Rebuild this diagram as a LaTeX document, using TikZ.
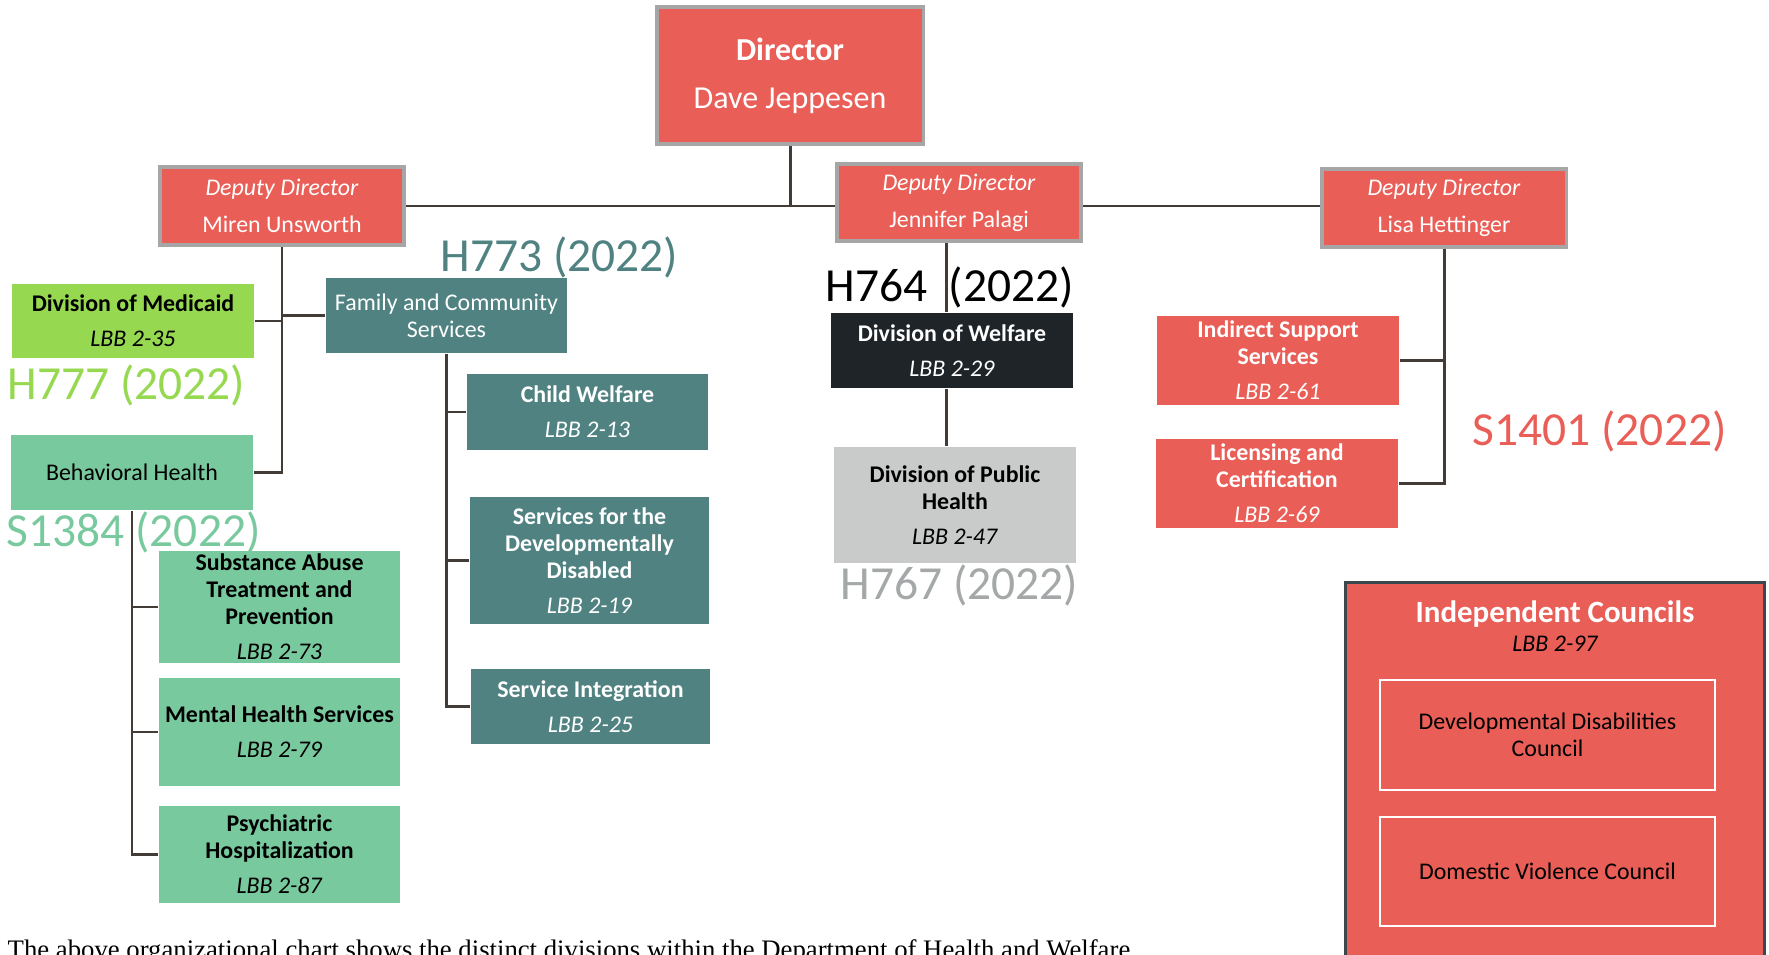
\documentclass[tikz,border=0pt]{standalone}
\usepackage{fontspec}
\setmainfont{Carlito}
\newfontfamily\capfont{Liberation Serif}
\usepackage{xcolor}
\usetikzlibrary{positioning, backgrounds}

\definecolor{hwcoral}{HTML}{E95E56}
\definecolor{hwrim}{HTML}{A6A6A6}
\definecolor{hwlime}{HTML}{96D951}
\definecolor{hwmint}{HTML}{79C99E}
\definecolor{hwteal}{HTML}{508281}
\definecolor{hwdark}{HTML}{1E2428}
\definecolor{hwgrey}{HTML}{C9CACA}
\definecolor{hwgreytext}{HTML}{A5A8A8}
\definecolor{hwline}{HTML}{433C36}
\definecolor{hwslate}{HTML}{3D474E}

\begin{document}
\begin{tikzpicture}[x=0.01cm, y=-0.01cm,
        conn/.style={draw=hwline, line width=0.85pt},
        unit/.style={
            rectangle, inner sep=0pt, align=center,
            font=\fontsize{6.8}{7.6}\selectfont,
            minimum width=2.42cm
        },
        head/.style={unit, fill=hwcoral, draw=hwrim, line width=0.9pt, text=white},
        redunit/.style={unit, fill=hwcoral, text=white},
        tealunit/.style={unit, fill=hwteal, text=white},
        mintunit/.style={unit, fill=hwmint},
        bill/.style={inner sep=0pt, anchor=base west, font=\fontsize{13.5}{16}\selectfont},
        council/.style={unit, draw=white, line width=0.7pt, minimum width=3.35cm}
    ]
        \useasboundingbox (0,0) rectangle (1769,955);

        % top of the chart
        \node[head, minimum width=2.66cm, minimum height=1.37cm,
              font=\fontsize{9.1}{13.6}\selectfont] (dir) at (790,75.5)
              {\textbf{Director}\\Dave Jeppesen};
        \node[head, minimum width=2.44cm, minimum height=0.78cm] (depU) at (282,206)
              {\textit{Deputy Director}\\[2.9pt]Miren Unsworth};
        \node[head, minimum width=2.44cm, minimum height=0.77cm] (depP) at (959,202.5)
              {\textit{Deputy Director}\\[2.9pt]Jennifer Palagi};
        \node[head, minimum width=2.44cm, minimum height=0.78cm] (depL) at (1444,208)
              {\textit{Deputy Director}\\[2.9pt]Lisa Hettinger};

        % Miren Unsworth
        \node[unit, fill=hwlime, minimum height=0.74cm] (med) at (133,321)
              {\textbf{Division of Medicaid}\\[2.4pt]\textit{LBB 2-35}};
        \node[tealunit, minimum width=2.41cm, minimum height=0.75cm] (fcs) at (446.5,315.5)
              {Family and Community\\Services};
        \node[mintunit, minimum height=0.75cm] (bh) at (132,472.5) {Behavioral Health};

        \node[mintunit, minimum width=2.41cm, minimum height=1.12cm] (sub) at (279.5,607)
              {\textbf{Substance Abuse}\\\textbf{Treatment and}\\\textbf{Prevention}\\[2.4pt]\textit{LBB 2-73}};
        \node[mintunit, minimum width=2.41cm, minimum height=1.08cm] (mhs) at (279.5,732)
              {\textbf{Mental Health Services}\\[2.4pt]\textit{LBB 2-79}};
        \node[mintunit, minimum width=2.41cm, minimum height=0.97cm] (psy) at (279.5,854.5)
              {\textbf{Psychiatric}\\\textbf{Hospitalization}\\[2.4pt]\textit{LBB 2-87}};

        \node[tealunit, minimum width=2.41cm, minimum height=0.76cm] (cw) at (587.5,412)
              {\textbf{Child Welfare}\\[2.4pt]\textit{LBB 2-13}};
        \node[tealunit, minimum width=2.39cm, minimum height=1.27cm] (sdd) at (589.5,560.5)
              {\textbf{Services for the}\\\textbf{Developmentally}\\\textbf{Disabled}\\[2.4pt]\textit{LBB 2-19}};
        \node[tealunit, minimum width=2.39cm, minimum height=0.75cm] (si) at (590.5,706.5)
              {\textbf{Service Integration}\\[2.4pt]\textit{LBB 2-25}};

        % Jennifer Palagi
        \node[unit, fill=hwdark, text=white, minimum height=0.75cm] (welf) at (952,350.5)
              {\textbf{Division of Welfare}\\[2.4pt]\textit{LBB 2-29}};
        \node[unit, fill=hwgrey, minimum height=1.16cm] (ph) at (955,505)
              {\textbf{Division of Public}\\\textbf{Health}\\[2.4pt]\textit{LBB 2-47}};
        \coordinate (pcol) at ([xshift=-0.06cm]welf.north);

        % Lisa Hettinger
        \node[redunit, minimum height=0.89cm] (iss) at (1278,360.5)
              {\textbf{Indirect Support}\\\textbf{Services}\\[2.4pt]\textit{LBB 2-61}};
        \node[redunit, minimum height=0.89cm] (lic) at (1277,483.5)
              {\textbf{Licensing and}\\\textbf{Certification}\\[2.4pt]\textit{LBB 2-69}};

        % councils
        \node[unit, fill=hwcoral, draw=hwslate, line width=0.9pt,
              minimum width=4.18cm, minimum height=4.1cm] (indep) at (1555,788) {};
        \node[inner sep=0pt, anchor=base, text=white,
              font=\fontsize{8.8}{10}\selectfont\bfseries] (ictitle) at (1555,623) {Independent Councils};
        \node[inner sep=0pt, anchor=base,
              font=\fontsize{6.8}{8}\selectfont\itshape] (iclbb) at (1555,652) {LBB 2-97};
        \node[council, minimum height=1.10cm] (ddc) at (1547.5,735)
              {Developmental Disabilities\\Council};
        \node[council, minimum height=1.09cm] (dvc) at (1547.5,871.5)
              {Domestic Violence Council};

        % bills
        \node[bill, text=hwteal] (h773) at (440,272) {H773 (2022)};
        \node[bill, text=hwlime] (h777) at (7,400) {H777 (2022)};
        \node[bill, text=hwmint] (s1384) at (6,547) {S1384 (2022)};
        \node[bill, text=black] (h764) at (825,302) {H764 \ (2022)};
        \node[bill, text=hwgreytext] (h767) at (840,600) {H767 (2022)};
        \node[bill, text=hwcoral] (s1401) at (1472,446) {S1401 (2022)};

        \node[inner sep=0pt, anchor=base west,
              font=\capfont\fontsize{7.6}{8}\selectfont] (caption) at (7,958)
              {The above organizational chart shows the distinct divisions within the Department of Health and Welfare};

        \begin{scope}[on background layer]
            \draw[conn] (dir.south) -- (dir.south |- depU.east);
            \draw[conn] (depU.east) -- (depL.west |- depU.east);

            \draw[conn] (depU.south) |- (bh.east);
            \draw[conn] (med.east) -- (med.east -| depU.south);
            \draw[conn] (fcs.west) -- (fcs.west -| depU.south);

            \draw[conn] (bh.south) |- (psy.west);
            \draw[conn] (sub.west) -- (sub.west -| bh.south);
            \draw[conn] (mhs.west) -- (mhs.west -| bh.south);

            \draw[conn] (fcs.south) |- (si.west);
            \draw[conn] (cw.west) -- (cw.west -| fcs.south);
            \draw[conn] (sdd.west) -- (sdd.west -| fcs.south);

            \draw[conn] (depP.south -| pcol) -- (pcol);
            \draw[conn] (welf.south -| pcol) -- (ph.north -| pcol);

            \draw[conn] (depL.south) |- (lic.east);
            \draw[conn] (iss.east) -- (iss.east -| depL.south);
        \end{scope}
    \end{tikzpicture}
\end{document}
